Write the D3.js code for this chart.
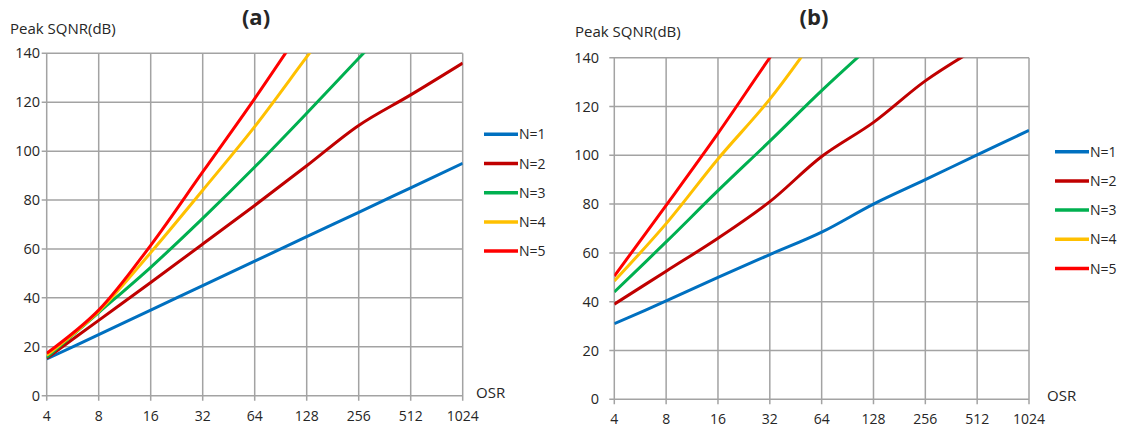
<!DOCTYPE html>
<html>
<head>
<meta charset="utf-8">
<script src="https://cdn.jsdelivr.net/npm/d3@7"></script>
<style>
	body { margin: 0; background: #fff; }
	svg text { font-family: 'Open Sans', 'DejaVu Sans', sans-serif; fill: #262626; }
</style>
</head>
<body>
<svg id="chart" width="1122" height="429"></svg>
<script>
const osr = [4, 8, 16, 32, 64, 128, 256, 512, 1024];
const yTicks = [0, 20, 40, 60, 80, 100, 120, 140];
const seriesNames = ['N=1', 'N=2', 'N=3', 'N=4', 'N=5'];
const colors = ['#0070c0', '#c00000', '#00b050', '#ffc000', '#ff0000'];

// panel (a): values per OSR octave, stopping once a line has left the top of the plot
const aN1 = [15, 25, 35, 45, 55, 65, 75, 85, 95];
const aN2 = [15.3, 30.8, 46.3, 62, 77.8, 94, 110.5, 123, 136];
const aN3 = [15.7, 34, 52.5, 72.5, 93.5, 115.5, 138, 160];
const aN4 = [16.5, 34.5, 58.5, 84, 110, 138.5, 167];
const aN5 = [17.3, 35, 61.5, 91.5, 121.5, 153];

// panel (b)
const bN1 = [31, 40.3, 50, 59.3, 68.5, 80, 90, 100.2, 110.2];
const bN2 = [39, 52.5, 66, 81, 99.5, 113.5, 130.5, 144];
const bN3 = [44, 64.5, 85.5, 105.8, 126.5, 146];
const bN4 = [48.5, 72, 98.5, 123, 152];
const bN5 = [50.5, 79.5, 109, 140, 170];

const svg = d3.select('#chart');

const drawPanel = (p) => {
	const x = d3.scaleLog().base(2).domain([4, 1024]).range([p.left, p.right]);
	const y = d3.scaleLinear().domain([0, 140]).range([p.bottom, p.top]);
	const g = svg.append('g');

	// grid
	g.append('g').selectAll('line').data(yTicks).enter().append('line')
		.attr('x1', p.left - 5).attr('x2', p.right)
		.attr('y1', d => y(d)).attr('y2', d => y(d))
		.attr('stroke', '#a3a3a3').attr('stroke-width', 1.5);
	g.append('g').selectAll('line').data(osr).enter().append('line')
		.attr('x1', d => x(d)).attr('x2', d => x(d))
		.attr('y1', p.top).attr('y2', p.bottom + 5)
		.attr('stroke', '#a3a3a3').attr('stroke-width', 1.5);

	// tick labels
	g.append('g').selectAll('text').data(yTicks).enter().append('text')
		.attr('x', p.yLabelX).attr('y', d => y(d) + 5)
		.attr('text-anchor', 'end')
		.style('font-size', '14.5px')
		.text(d => d);
	g.append('g').selectAll('text').data(osr).enter().append('text')
		.attr('x', d => x(d)).attr('y', p.xLabelY)
		.attr('text-anchor', 'middle')
		.style('font-size', '14px')
		.text(d => d);

	g.append('text')
		.attr('x', p.osrX).attr('y', p.bottom + 2)
		.style('font-size', '15px')
		.text('OSR');
	g.append('text')
		.attr('x', p.yTitleX).attr('y', p.yTitleY)
		.style('font-size', '15px')
		.text('Peak SQNR(dB)');
	g.append('text')
		.attr('x', p.titleX).attr('y', 25)
		.attr('text-anchor', 'middle')
		.style('font-size', '22px').style('font-weight', 'bold')
		.text(p.title);

	// series
	const clipId = 'clip-' + p.id;
	svg.append('clipPath').attr('id', clipId)
		.append('rect')
		.attr('x', p.left).attr('y', p.top)
		.attr('width', p.right - p.left).attr('height', p.bottom - p.top);

	const line = d3.line()
		.x((d, i) => x(osr[i]))
		.y(d => y(d))
		.curve(d3.curveCatmullRom.alpha(0.5));

	g.append('g').attr('clip-path', 'url(#' + clipId + ')')
		.selectAll('path').data(p.series).enter().append('path')
		.attr('fill', 'none')
		.attr('stroke', (d, i) => colors[i])
		.attr('stroke-width', 3)
		.attr('stroke-linejoin', 'round')
		.attr('d', line);

	// legend
	const legend = g.append('g').selectAll('g').data(seriesNames).enter().append('g')
		.attr('transform', (d, i) => 'translate(' + p.legendX + ',' + (p.legendY + i * 29.2) + ')');
	legend.append('line')
		.attr('x1', 0).attr('x2', 34)
		.attr('stroke', (d, i) => colors[i])
		.attr('stroke-width', 3.5);
	legend.append('text')
		.attr('x', 35).attr('y', 5)
		.style('font-size', '14px')
		.text(d => d);
};

drawPanel({
	id: 'a', title: '(a)', titleX: 256,
	left: 46.7, right: 462.7, top: 53.3, bottom: 395.7,
	yLabelX: 40, xLabelY: 421, osrX: 476,
	yTitleX: 10, yTitleY: 34,
	legendX: 484, legendY: 134.3,
	series: [aN1, aN2, aN3, aN4, aN5]
});

drawPanel({
	id: 'b', title: '(b)', titleX: 814,
	left: 614.3, right: 1029, top: 57.7, bottom: 399.3,
	yLabelX: 599, xLabelY: 424, osrX: 1047,
	yTitleX: 575, yTitleY: 37,
	legendX: 1055, legendY: 151.7,
	series: [bN1, bN2, bN3, bN4, bN5]
});
</script>
</body>
</html>
